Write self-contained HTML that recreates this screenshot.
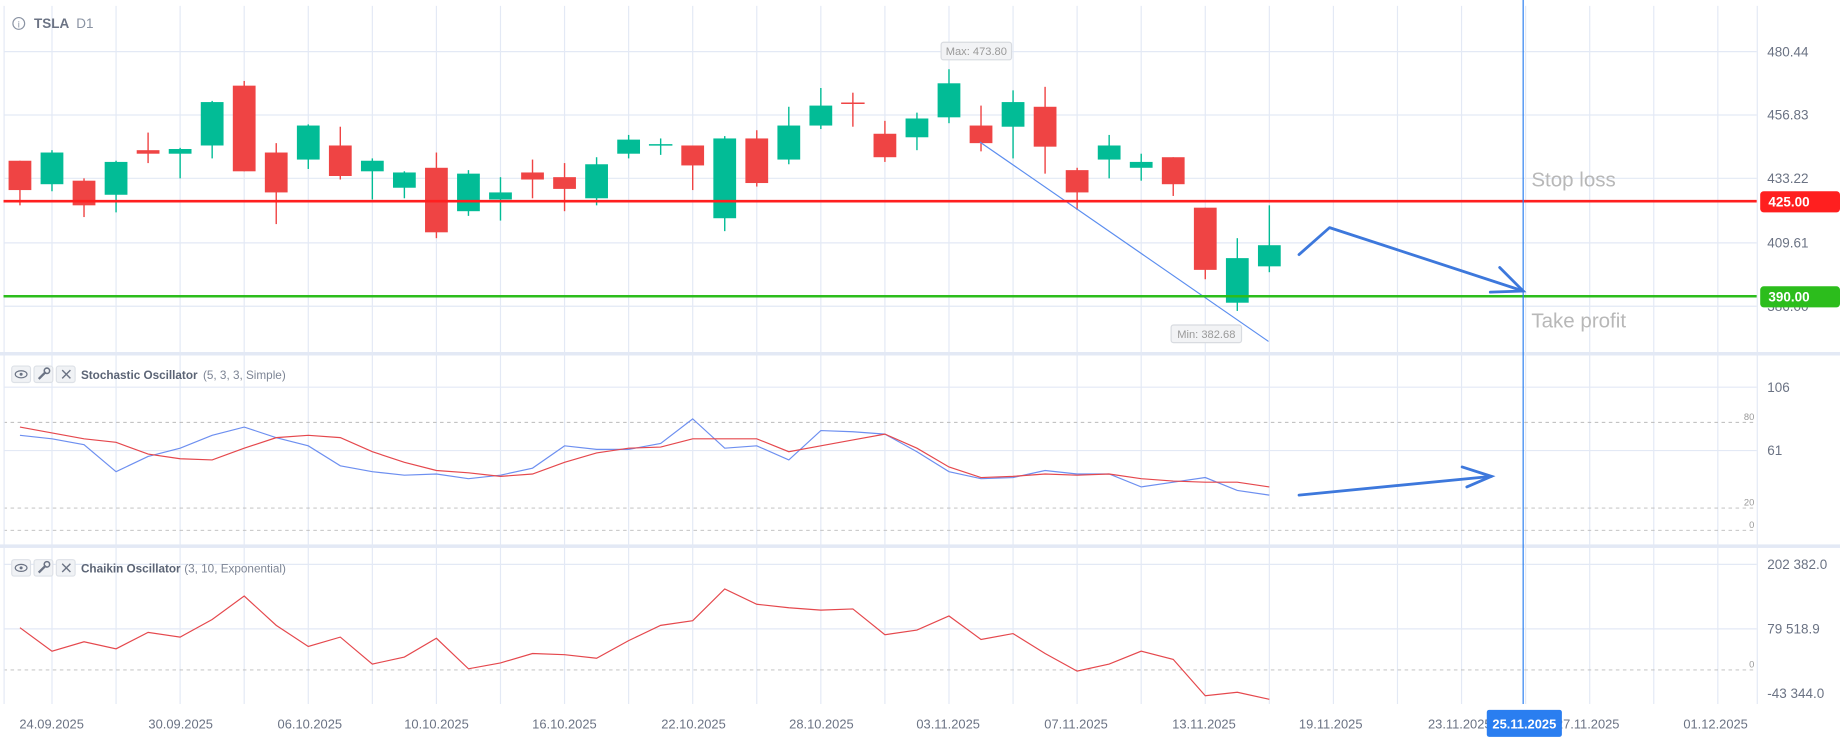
<!DOCTYPE html>
<html><head><meta charset="utf-8"><style>
html,body{margin:0;padding:0;background:#fff;overflow:hidden}
svg{display:block;font-family:"Liberation Sans",sans-serif}
</style></head><body>
<svg id="s" width="1840" height="738" viewBox="0 0 1568 629" preserveAspectRatio="none" xmlns="http://www.w3.org/2000/svg"></svg>
<script>
const s=document.getElementById('s');let h='';
const X=i=>17+27.3*i;
for(let i=1;i<60;i+=2){const x=X(i);if(x>1497)break;h+=`<line x1="${x}" y1="5" x2="${x}" y2="600" stroke="#e3e9f5" stroke-width="1"/>`;}
[44,98,152,207,261].forEach(y=>h+=`<line x1="3" y1="${y}" x2="1497" y2="${y}" stroke="#e3e9f5"/>`);
[330,384].forEach(y=>h+=`<line x1="3" y1="${y}" x2="1497" y2="${y}" stroke="#e3e9f5"/>`);
[481,536].forEach(y=>h+=`<line x1="3" y1="${y}" x2="1497" y2="${y}" stroke="#e3e9f5"/>`);
[360,433,452].forEach(y=>h+=`<line x1="3" y1="${y}" x2="1497" y2="${y}" stroke="#bbb" stroke-dasharray="3,3" stroke-width="0.8"/>`);
h+=`<line x1="3" y1="571" x2="1497" y2="571" stroke="#bbb" stroke-dasharray="3,3" stroke-width="0.8"/>`;
h+=`<line x1="3.5" y1="5" x2="3.5" y2="600" stroke="#e3e9f5"/><line x1="1497.5" y1="5" x2="1497.5" y2="600" stroke="#e3e9f5"/>`;
h+=`<rect x="0" y="300" width="1568" height="3" fill="#e3e9f5"/><rect x="0" y="464" width="1568" height="3" fill="#e3e9f5"/>`;
const C=[[137,162,137,175,0],[130,157,128,163,1],[154,175,152,185,0],[138,166,137,181,1],[128,131,113,139,0],[127,131,126,152,1],[87,124,86,135,1],[73,146,69,146,0],[130,164,122,191,0],[107,136,106,144,1],[124,150,108,153,0],[137,146,135,170,1],[147,160,146,169,1],[143,198,130,203,0],[148,180,145,184,1],[164,170,151,188,1],[147,153,136,169,0],[151,161,139,180,0],[140,169,134,175,1],[119,131,115,135,1],[123.5,124.5,118,132,1],[124,141,124,162,0],[118,186,116,197,1],[118,156,111,159,0],[107,136,91,140,1],[90,107,75,110,1],[88,89,79,108,0],[114,134,103,138,0],[101,117,96,128,1],[71,100,59,105,1],[107,122,90,129,0],[87,108,77,135,1],[91,125,74,148,0],[145,164,143,179,0],[124,136,115,152,1],[138,143,131,154,1],[134,157,134,167,0],[177,230,177,238,0],[220,258,203,265,1],[209,227,175,232,1]];
C.forEach((c,i)=>{const x=X(i),col=c[4]?'#02bc96':'#ef4444';h+=`<line x1="${x}" y1="${c[2]}" x2="${x}" y2="${c[3]}" stroke="${col}" stroke-width="1.2"/>`;const ht=Math.max(c[1]-c[0],1.2);if(c[1]-c[0]<2)h+=`<line x1="${x-10}" y1="${c[0]}" x2="${x+10}" y2="${c[0]}" stroke="${col}" stroke-width="1.3"/>`;else h+=`<rect x="${x-9.7}" y="${c[0]}" width="19.4" height="${ht}" fill="${col}"/>`;});
h+=`<line x1="835" y1="121" x2="1081" y2="291" stroke="#5b8def" stroke-width="1"/>`;
h+=`<line x1="3" y1="171.5" x2="1497" y2="171.5" stroke="#ff1f1f" stroke-width="2.2"/><line x1="3" y1="252.5" x2="1497" y2="252.5" stroke="#2cbd1c" stroke-width="2.2"/>`;
h+=`<line x1="1298" y1="0" x2="1298" y2="600" stroke="#2a7ef0" stroke-width="1"/>`;
h+=`<polyline points="1107,217 1133,194 1298,248" fill="none" stroke="#3d78dc" stroke-width="2.4" stroke-linecap="round" stroke-linejoin="round"/><polyline points="1278,228 1298,248 1270,249" fill="none" stroke="#3d78dc" stroke-width="2.4" stroke-linecap="round"/>`;
h+=`<line x1="1107" y1="422" x2="1271" y2="406" stroke="#3d78dc" stroke-width="2.4" stroke-linecap="round"/><polyline points="1246,398 1271,406 1250,415" fill="none" stroke="#3d78dc" stroke-width="2.4" stroke-linecap="round"/>`;
h+=`<text x="1305" y="159" font-size="17.5" fill="#b8b8b8">Stop loss</text><text x="1305" y="279" font-size="17.5" fill="#b8b8b8">Take profit</text>`;
h+=`<rect x="802" y="36" width="60" height="15" rx="2" fill="#f2f3f5" stroke="#d8dbe0"/><text x="832" y="47" font-size="9.5" fill="#999" text-anchor="middle">Max: 473.80</text>`;
h+=`<rect x="998" y="277" width="60" height="15" rx="2" fill="#f2f3f5" stroke="#d8dbe0"/><text x="1028" y="288" font-size="9.5" fill="#999" text-anchor="middle">Min: 382.68</text>`;
h+=`<circle cx="16" cy="20" r="5" fill="none" stroke="#8a93a3" stroke-width="1"/><text x="16" y="23.5" font-size="8" fill="#8a93a3" text-anchor="middle">i</text><text x="29" y="24" font-size="11.5" font-weight="bold" fill="#6b7384">TSLA</text><text x="65" y="24" font-size="11.5" fill="#8a93a3">D1</text>`;
[[44,'480.44'],[98,'456.83'],[152,'433.22'],[207,'409.61'],[261,'386.00']].forEach(a=>h+=`<text x="1506" y="${a[0]+4}" font-size="11.5" fill="#6b7384">${a[1]}</text>`);
h+=`<rect x="1500" y="163" width="68" height="18" rx="3" fill="#ff1f1f"/><text x="1507" y="176" font-size="11.5" font-weight="bold" fill="#fff">425.00</text>`;
h+=`<rect x="1500" y="244" width="68" height="18" rx="3" fill="#2cbd1c"/><text x="1507" y="257" font-size="11.5" font-weight="bold" fill="#fff">390.00</text>`;
[[330,'106'],[384,'61']].forEach(a=>h+=`<text x="1506" y="${a[0]+4}" font-size="11.5" fill="#6b7384">${a[1]}</text>`);
[[360,'80'],[433,'20'],[452,'0']].forEach(a=>h+=`<text x="1495" y="${a[0]-2}" font-size="8" fill="#999" text-anchor="end">${a[1]}</text>`);
[[481,'202 382.0'],[536,'79 518.9'],[591,'-43 344.0']].forEach(a=>h+=`<text x="1506" y="${a[0]+4}" font-size="11.5" fill="#6b7384">${a[1]}</text>`);
h+=`<text x="1495" y="569" font-size="8" fill="#999" text-anchor="end">0</text>`;
function hdr(y,name,par,px){let o='';[10,29,48].forEach((x,k)=>{o+=`<rect x="${x}" y="${y-7}" width="16" height="14" rx="2" fill="#f0f2f5" stroke="#dde1e7"/>`;});
o+=`<ellipse cx="18" cy="${y}" rx="5" ry="3" fill="none" stroke="#6b7384"/><circle cx="18" cy="${y}" r="1.3" fill="#6b7384"/>`;
o+=`<line x1="33" y1="${y+4}" x2="39" y2="${y-2}" stroke="#6b7384" stroke-width="2"/><circle cx="40" cy="${y-3}" r="2.3" fill="none" stroke="#6b7384" stroke-width="1.3"/>`;
o+=`<path d="M53 ${y-3.5}l7 7M60 ${y-3.5}l-7 7" stroke="#6b7384" stroke-width="1.2"/>`;
o+=`<text x="69" y="${y+4}" font-size="10" font-weight="bold" fill="#5b6475">${name}</text><text x="${px}" y="${y+4}" font-size="10" fill="#7d8595">${par}</text>`;return o;}
h+=hdr(319,'Stochastic Oscillator','(5, 3, 3, Simple)',173);
h+=hdr(484,'Chaikin Oscillator','(3, 10, Exponential)',157);
const B=[371,374,379,402,389,382,371,364,373,380,397,402,405,404,408,405,399,380,383,383,378,357,382,380,392,367,368,370,385,402,408,407,401,404,404,415,411,407,418,422];
const R=[364,369,374,377,387,391,392,382,373,371,373,385,394,401,403,406,404,394,386,382,381,374,374,374,385,380,375,370,382,398,407,406,404,405,404,408,410,411,411,415];
const K=[535,555,547,553,539,543,528,508,533,551,543,566,560,544,570,565,557,558,561,546,533,529,529,502,515,518,520,519,541,537,525,545,540,557,572,566,555,562,593,590,596];
K.splice(21,1);
const pl=(a,c)=>`<polyline points="${a.map((v,i)=>X(i)+','+v).join(' ')}" fill="none" stroke="${c}" stroke-width="1"/>`;
h+=pl(B,'#6d8ff0')+pl(R,'#e5484d')+pl(K,'#e5484d');
const D=[[44,'24.09.2025'],[154,'30.09.2025'],[264,'06.10.2025'],[372,'10.10.2025'],[481,'16.10.2025'],[591,'22.10.2025'],[700,'28.10.2025'],[808,'03.11.2025'],[917,'07.11.2025'],[1026,'13.11.2025'],[1134,'19.11.2025'],[1244,'23.11.2025'],[1353,'27.11.2025'],[1462,'01.12.2025']];
D.forEach(d=>h+=`<text x="${d[0]}" y="621" font-size="11" fill="#6b7384" text-anchor="middle">${d[1]}</text>`);
h+=`<rect x="1267" y="605" width="64" height="23" rx="2" fill="#2a7ef0"/><text x="1299" y="621" font-size="11" font-weight="bold" fill="#fff" text-anchor="middle">25.11.2025</text>`;
s.innerHTML=h;
</script>
</body></html>
